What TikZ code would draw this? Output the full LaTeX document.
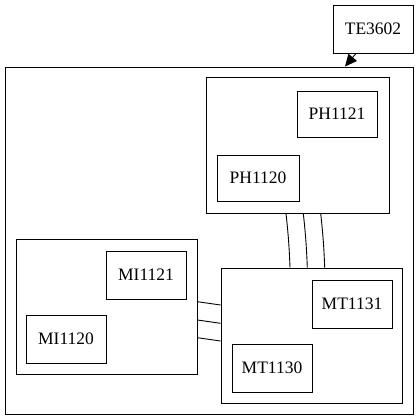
\documentclass[tikz,border=0pt]{standalone}
\usepackage{fontspec}
\setmainfont{Liberation Serif}
\usetikzlibrary{arrows.meta}
\begin{document}
\begin{tikzpicture}[x=1bp,y=-1bp,
  box/.style={draw,line width=0.9bp,rectangle,inner sep=0pt,font=\fontsize{17.5bp}{20bp}\selectfont},
  clus/.style={draw,line width=0.9bp,rectangle,inner sep=0pt},
  edge/.style={line width=0.9bp}]
\useasboundingbox (0,0) rectangle (420,420);
% outer cluster
\node[clus,minimum width=408bp,minimum height=347bp] (outer) at (209,240.5) {};
% PH cluster
\node[clus,minimum width=183bp,minimum height=136bp] (ph) at (297.5,145) {};
\node[box,minimum width=80bp,minimum height=46bp] (ph1121) at (337,114) {PH1121};
\node[box,minimum width=82bp,minimum height=46bp] (ph1120) at (258,178) {PH1120};
% MI cluster
\node[clus,minimum width=181bp,minimum height=135bp] (mi) at (106.5,306.5) {};
\node[box,minimum width=80bp,minimum height=48bp] (mi1121) at (146,275) {MI1121};
\node[box,minimum width=80bp,minimum height=48bp] (mi1120) at (66,339) {MI1120};
% MT cluster
\node[clus,minimum width=181bp,minimum height=135bp] (mt) at (311.5,335.5) {};
\node[box,minimum width=80bp,minimum height=48bp] (mt1131) at (352,304) {MT1131};
\node[box,minimum width=80bp,minimum height=48bp] (mt1130) at (272,368) {MT1130};
% TE
\node[box,minimum width=80bp,minimum height=48bp] (te) at (373,29) {TE3602};
% edge TE -> outer
\coordinate (teout) at (te.south -| 356,0);
\coordinate (outin) at (outer.north -| 345,0);
\draw[edge,-{Triangle[length=12bp,width=11bp]}] (teout) -- (outin);
% PH - MT edges
\foreach \a/\b in {286/290,303.3/307.3,320.7/324.7}{
  \draw[edge] (ph.south -| \a,0) to[bend left=2] (mt.north -| \b,0);
}
% MI - MT edges
\foreach \a/\b in {301.7/305,320/323.3,337.7/341}{
  \draw[edge] (mi.east |- 0,\a) -- (mt.west |- 0,\b);
}
\end{tikzpicture}
\end{document}
